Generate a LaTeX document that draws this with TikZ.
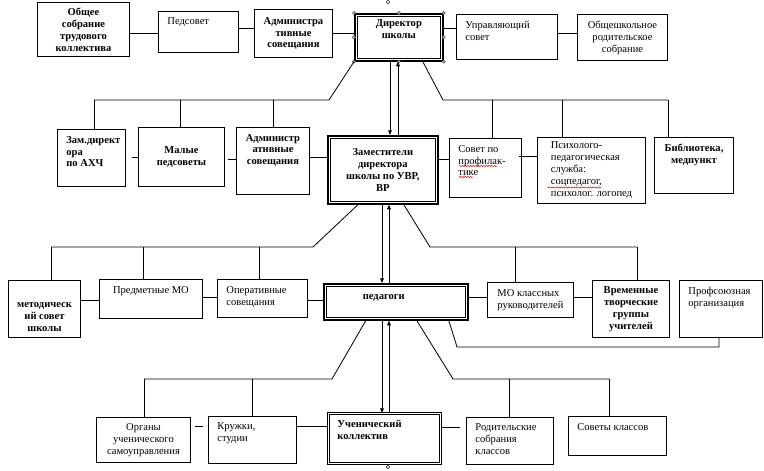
\documentclass[tikz,border=0pt]{standalone}
\usepackage{fontspec}
\setmainfont{Liberation Serif}
\usepackage{tikz}
\usetikzlibrary{arrows.meta,calc,decorations.pathmorphing}
\newcommand{\orgfont}{\fontsize{9}{10.2}\selectfont}

\begin{document}
\begin{tikzpicture}[x=0.3mm, y=-0.3mm, font=\orgfont, line width=0.7pt,
    box/.style={draw, line width=0.8pt, align=center, inner sep=1pt},
    sz/.style 2 args={minimum width=#1*0.3mm, minimum height=#2*0.3mm, anchor=north west},
    bld/.style={font=\orgfont\bfseries},
    lbl/.style={inner sep=0pt, align=left},
    tl/.style 2 args={label={[lbl,#1,anchor=north west,xshift=2.7mm,yshift=-2mm]north west:#2}},
    tc/.style 2 args={label={[lbl,#1,align=center,anchor=north,yshift=-2mm]north:#2}},
    bc/.style 2 args={label={[lbl,#1,align=center,anchor=south,yshift=1.8mm]south:#2}},
    dblthick/.style={line width=1.4pt},
    dblthin/.style={double, line width=0.5pt, double distance=1.2pt},
    arr/.style={-{Triangle[length=4pt,width=3.2pt]}, line width=0.8pt},
    spell/.style={red!80!black, line width=0.4pt, decorate,
                  decoration={snake, amplitude=0.2mm, segment length=0.8mm}}
]
\fill[white] (0,0) rectangle (764,471);
\useasboundingbox (0,0) rectangle (764,471);

% top row
\node[box, sz={92}{54}, bld] (obsh) at (37,2) {Общее\\собрание\\трудового\\коллектива};
\node[box, sz={80}{41}, tl={}{Педсовет}] (pedsov) at (158,11) {};
\node[box, sz={78}{48}, bld] (adm1) at (254,9) {Администра\\тивные\\совещания};
\node[box, sz={88}{47}, dblthick, tc={bld}{Директор\\школы}] (dir) at (354,13) {};
\node[box, sz={101}{45}, tl={}{Управляющий\\совет}] (upr) at (456,14) {};
\node[box, sz={90}{46}] (obshrod) at (577,14) {Общешкольное\\родительское\\собрание};

% second row
\node[box, sz={68}{57}, tl={bld}{Зам.директ\\ора\\по АХЧ}] (ahch) at (57,129) {};
\node[box, sz={86}{59}, bld] (malye) at (138,127) {Малые\\педсоветы};
\node[box, sz={73}{67}, tc={bld}{Администр\\ативные\\совещания}] (adm2) at (236,127) {};
\node[box, sz={110}{68}, dblthick, bld] (zam) at (327,135) {Заместители\\директора\\школы по УВР,\\ВР};
\node[box, sz={72}{59}, tl={}{Совет по\\профилак-\\тике}] (profil) at (449,138) {};
\node[box, sz={108}{66}, align=left] (psy) at (537,137) {Психолого-\\педагогическая\\служба:\\соцпедагог,\\психолог. логопед};
\node[box, sz={79}{56}, tc={bld}{Библиотека,\\медпункт}] (bibl) at (654,137) {};

% third row
\node[box, sz={72}{57}, bc={bld}{методическ\\ий совет\\школы}] (metod) at (8,280) {};
\node[box, sz={103}{39}, tc={}{Предметные МО}] (predm) at (99,279) {};
\node[box, sz={90}{38}, tl={}{Оперативные\\совещания}] (oper) at (217,279) {};
\node[box, sz={144}{36}, dblthick, label={[lbl,bld,anchor=center,xshift=-3.6mm,yshift=1.2mm]center:педагоги}] (ped) at (323,283) {};
\node[box, sz={86}{35}, align=left] (mokl) at (487,282) {МО классных\\руководителей};
\node[box, sz={77}{57}, bld] (vrem) at (592,280) {Временные\\творческие\\группы\\учителей};
\node[box, sz={83}{57}, tl={}{Профсоюзная\\организация}] (prof) at (679,280) {};

% bottom row
\node[box, sz={94}{45}] (organy) at (96,417) {Органы\\ученического\\самоуправления};
\node[box, sz={88}{47}, tl={}{Кружки,\\студии}] (kruzh) at (208,416) {};
\node[box, sz={112}{50}, dblthin, tl={bld}{Ученический\\коллектив}] (uch) at (328,413) {};
\node[box, sz={87}{47}, tl={}{Родительские\\собрания\\классов}] (rodkl) at (466,417) {};
\node[box, sz={98}{39}, tl={}{Советы классов}] (sovkl) at (568,416) {};

% inner frames and handles
\foreach \n in {dir,zam,ped}
  \draw[line width=0.5pt] ([shift={(0.9mm,-0.9mm)}]\n.north west) rectangle ([shift={(-0.9mm,0.9mm)}]\n.south east);
\foreach \a in {north west,north,north east,east,south east,south,south west,west}
  \filldraw[fill=gray!60, draw=black!70, line width=0.4pt] (dir.\a) circle (0.5mm);
\draw[line width=0.4pt] (388,2) circle (0.55mm);
\draw[line width=0.4pt] (388,467) circle (0.55mm);

% spell-check marks
\draw[spell] ($(profil.north west)+(10,28)$) -- ++(39,0);
\draw[spell] ($(profil.north west)+(10,39)$) -- ++(14,0);
\draw[spell] ($(psy.north west)+(10,50.5)$) -- ++(55,0);

% links in rows
\draw (obsh.east |- 0,33) -- (pedsov.west |- 0,33);
\draw (pedsov.east |- 0,28) -- (adm1.west |- 0,28);
\draw (adm1.east |- 0,33) -- (dir.west |- 0,33);
\draw (dir.east |- 0,28) -- (upr.west |- 0,28);
\draw (upr.east |- 0,33) -- (obshrod.west |- 0,33);
\draw ($(ahch.east |- 0,157)+(6,0)$) -- (malye.west |- 0,157);
\draw ($(malye.east |- 0,159)+(3,0)$) -- (adm2.west |- 0,159);
\draw (adm2.east |- 0,157) -- (zam.west |- 0,157);
\draw (zam.east |- 0,159) -- (profil.west |- 0,159);
\draw ($(profil.east |- 0,156)+(-3,0)$) -- (psy.west |- 0,156);
\draw (metod.east |- 0,300) -- (predm.west |- 0,300);
\draw (predm.east |- 0,297) -- (oper.west |- 0,297);
\draw (oper.east |- 0,300) -- (ped.west |- 0,300);
\draw (ped.east |- 0,297) -- (mokl.west |- 0,297);
\draw (mokl.east |- 0,297) -- (vrem.west |- 0,297);
\draw ($(organy.east |- 0,426)+(4,0)$) -- ($(kruzh.west |- 0,426)+(-5,0)$);
\draw (kruzh.east |- 0,426) -- (uch.west |- 0,426);
\draw (uch.east |- 0,427) -- ($(rodkl.west |- 0,427)+(-6,0)$);

% buses
\coordinate (busA) at (329,100);
\coordinate (busB) at (443,100);
\coordinate (busC) at (313,247);
\coordinate (busD) at (430,247);
\coordinate (busE) at (457,347);
\coordinate (busF) at (332,379);
\coordinate (busG) at (453,379);
\draw (dir.south west) -- (busA) -- (94,100);
\foreach \x/\n in {94/ahch,180/malye,273/adm2} \draw (\x,100) -- (\n.north -| \x,0);
\draw ($(dir.south)+(24,0)$) -- (busB) -- (668,100);
\foreach \x/\n in {492/profil,562/psy,668/bibl} \draw (\x,100) -- (\n.north -| \x,0);
\draw ($(zam.south west)+(31,0)$) -- (busC) -- (51,247);
\foreach \x/\n in {51/metod,143/predm,259/oper} \draw (\x,247) -- (\n.north -| \x,0);
\draw ($(zam.south)+(21,0)$) -- (busD) -- (637,247);
\foreach \x/\n in {515/mokl,637/vrem} \draw (\x,247) -- (\n.north -| \x,0);
\draw ($(ped.south)+(53,0)$) -- (busE) -- (719,347) -- (prof.south -| 719,0);
\draw ($(ped.south)+(-30,0)$) -- (busF) -- (144,379);
\foreach \x/\n in {144/organy,252/kruzh} \draw (\x,379) -- (\n.north -| \x,0);
\draw ($(ped.south)+(21,0)$) -- (busG) -- (609,379);
\foreach \x/\n in {509/rodkl,609/sovkl} \draw (\x,379) -- (\n.north -| \x,0);

% vertical arrows
\draw[arr] (dir.south -| 390,0) -- (zam.north -| 390,0);
\draw[arr] (zam.north -| 398,0) -- (dir.south -| 398,0);
\draw[arr] (zam.south -| 382,0) -- (ped.north -| 382,0);
\draw[arr] (ped.north -| 389,0) -- (zam.south -| 389,0);
\draw[arr] (ped.south -| 382,0) -- (uch.north -| 382,0);
\draw[arr] (uch.north -| 389,0) -- (ped.south -| 389,0);
\end{tikzpicture}
\end{document}
